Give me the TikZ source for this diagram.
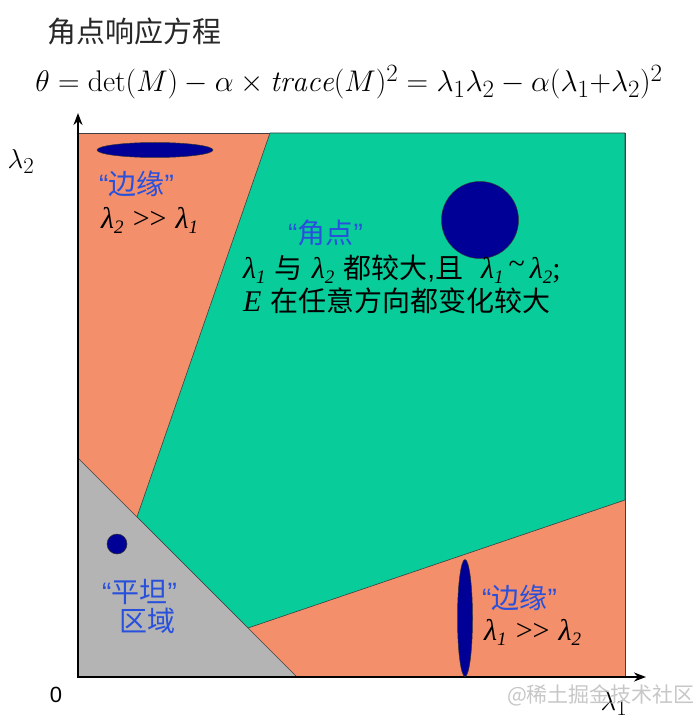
\documentclass[tikz,border=0pt]{standalone}
\usepackage{graphicx}
\usepackage{fontspec}
\newfontfamily\cjk{Noto Sans CJK SC}
\newfontfamily\tms{Liberation Serif}
\newfontfamily\lsans{Liberation Sans}
\usetikzlibrary{arrows.meta,shapes.geometric}
\definecolor{orangeR}{RGB}{243,143,106}
\definecolor{greenR}{RGB}{8,204,154}
\definecolor{grayR}{RGB}{180,180,180}
\definecolor{navyR}{RGB}{0,0,150}
\definecolor{blueT}{RGB}{40,80,220}
\definecolor{titleC}{RGB}{40,40,40}
\newcommand{\lm}[1]{{\tms\itshape λ\raisebox{-0.38ex}{\fontsize{19}{19}\selectfont #1}}}
\newcommand{\cz}{\cjk\fontsize{28}{28}\selectfont}
\tikzset{
  region/.style={draw=black!75, line width=0.6pt},
  blob/.style={fill=navyR, draw=black!80, line width=0.5pt},
  axis/.style={line width=2.6pt, -{Stealth[length=12pt,width=9pt]}},
  lbl/.style={anchor=base west, inner sep=0pt},
  cn/.style={font=\cjk\fontsize{28}{32}\selectfont},
  bluetxt/.style={text=blueT},
}
\begin{document}
\begin{tikzpicture}[x=1pt,y=-1pt]
\useasboundingbox (0,0) rectangle (697,722);
\fill[white] (0,0) rectangle (697,722);
% title and formula
\node[lbl, font=\cjk\fontsize{29}{32}\selectfont, text=titleC] (title) at (47,43) {角点响应方程};
\node[anchor=base, inner sep=0pt] (formula) at (349,92) {\scalebox{1.2}{\fontsize{24.88}{28}\selectfont $\theta=\det(M)-\alpha\times \mathit{trace}(M)^2=\lambda_1\lambda_2-\alpha(\lambda_1{+}\lambda_2)^2$}};
% regions
\filldraw[region, fill=orangeR] (78,133) rectangle (625,677);
\filldraw[region, fill=greenR] (270,133) -- (625,133) -- (625,500) -- (248,628) -- (137,517) -- cycle;
\filldraw[region, fill=grayR] (78,458) -- (297,677) -- (78,677) -- cycle;
% axes
\coordinate (O) at (78,677);
\coordinate (ytip) at (78,113);
\coordinate (xtip) at (646,677);
\coordinate (xstart) at (76.7,677);
\draw[axis] (O) -- (ytip);
\draw[axis] (xstart) -- (xtip);
\node[anchor=base, inner sep=0pt] (zero) at (56,702) {\lsans\fontsize{22}{22}\selectfont 0};
\node[anchor=base, inner sep=0pt] (l2) at (21,168) {\scalebox{1.1}{\fontsize{24.88}{27}\selectfont $\lambda_2$}};
\node[anchor=base, inner sep=0pt] (l1) at (614,710) {\scalebox{1.1}{\fontsize{24.88}{27}\selectfont $\lambda_1$}};
% blobs
\node[blob, ellipse, minimum width=116pt, minimum height=15pt, inner sep=0pt] (e1) at (155,150) {};
\node[blob, circle, minimum size=77pt, inner sep=0pt] (c1) at (480,220) {};
\node[blob, circle, minimum size=20pt, inner sep=0pt] (c2) at (117,544) {};
\node[blob, ellipse, minimum width=15pt, minimum height=117pt, inner sep=0pt] (e2) at (465,618) {};
% texts top-left
\node[lbl, cn, bluetxt] (t1) at (99,194) {{\lsans “}边缘{\lsans ”}};
\node[lbl] (t2) at (101,228) {\fontsize{30}{30}\selectfont \lm{2} {\tms >{}>} \lm{1}};
% center
\node[lbl, cn, bluetxt] (t3) at (288,243) {{\lsans “}角点{\lsans ”}};
\node[lbl] (t4) at (243,278) {\fontsize{30}{30}\selectfont \lm{1} {\cz 与} \lm{2} {\cz 都较大}{\lsans\fontsize{28}{28}\selectfont ,}{\cz 且}\hspace{18pt}\lm{1}{\tms\,\raisebox{0.3ex}{\textasciitilde}\,}\lm{2}{\tms ;}};
\node[lbl] (t5) at (243,311) {\fontsize{30}{30}\selectfont {\tms\itshape E} {\cz 在任意方向都变化较大}};
% bottom-left
\node[lbl, cn, bluetxt] (t6) at (102,602) {{\lsans “}平坦{\lsans ”}};
\node[lbl, cn, bluetxt] (t7) at (119,631) {区域};
% bottom-right
\node[lbl, cn, bluetxt] (t8) at (482,608) {{\lsans “}边缘{\lsans ”}};
\node[lbl] (t9) at (484,640) {\fontsize{30}{30}\selectfont \lm{1} {\tms >{}>} \lm{2}};
% watermark
\node[anchor=base, inner sep=0pt, text=black!22] (wm) at (601,702) {\cjk\fontsize{21}{21}\selectfont @稀土掘金技术社区};
\end{tikzpicture}
\end{document}
